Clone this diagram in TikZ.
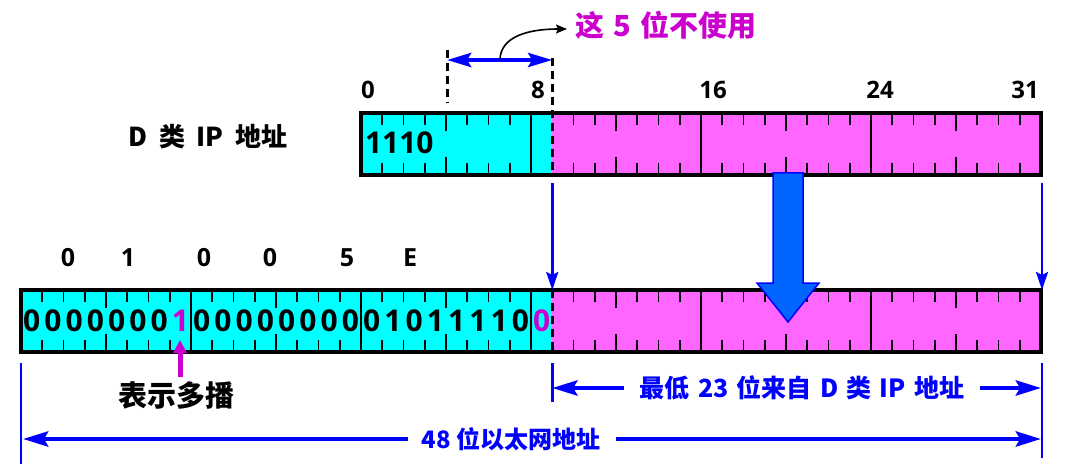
\documentclass[tikz,border=0pt]{standalone}
\usepackage{fontspec}
\setmainfont{Open Sans}
\newfontfamily\cjk{Noto Sans CJK SC}
\usetikzlibrary{arrows.meta,calc}
\definecolor{cy}{HTML}{00FFFF}
\definecolor{mg}{HTML}{FF66FF}
\definecolor{tm}{HTML}{CC00CC}
\definecolor{bl}{HTML}{0000FF}
\definecolor{ba}{HTML}{0066FF}
\newcommand{\fsz}[1]{\fontsize{#1}{#1}\selectfont}
\newcommand{\gp}{\hspace{0.33em}}
\begin{document}
\begin{tikzpicture}[x=1pt,y=-1pt,
  every node/.style={inner sep=0pt,outer sep=0pt},
  fillbox/.style={draw=none,minimum height=62pt,anchor=north west},
  tick/.style={line width=1.6pt,black},
  dashl/.style={line width=3pt,black,dash pattern=on 8pt off 5pt},
  frame/.style={line width=4pt,black},
  blueline/.style={draw=bl,line width=2.5pt},
  dimarr/.style={draw=bl,line width=4.5pt,-{Stealth[length=25pt,width=15pt,inset=4pt]}},
  thinarr/.style={draw=bl,line width=2.5pt,-{Stealth[length=18pt,width=12pt,inset=3pt]}},
  numlab/.style={font=\bfseries\fsz{24}},
  hexlab/.style={font=\bfseries\fsz{25}},
  bitd/.style={font=\bfseries\fsz{30}},
  cjklab/.style={font=\cjk\bfseries\fsz{#1}},
]
\useasboundingbox (0,0) rectangle (1067,470);

% bar fills
\node[fillbox,fill=cy,minimum width=191.25pt] (tcy) at (361,113) {};
\node[fillbox,fill=mg,minimum width=488.75pt] (tmg) at (552.25,113) {};
\node[fillbox,fill=cy,minimum width=531.25pt] (bcy) at (21,290) {};
\node[fillbox,fill=mg,minimum width=488.75pt] (bmg) at (552.25,290) {};

% ticks top bar
\foreach \i in {1,...,31}{
  \pgfmathsetmacro\xx{361+\i*21.25}
  \pgfmathtruncatemacro\r{\i==9 ? 3 : (mod(\i,8)==0 ? 2 : (mod(\i,4)==0 ? 1 : 0))}
  \ifcase\r
    \draw[tick] (\xx,113) -- ++(0,12) (\xx,175) -- ++(0,-12);
  \or
    \draw[tick] (\xx,113) -- ++(0,18) (\xx,175) -- ++(0,-18);
  \or
    \draw[tick] (\xx,113) -- (\xx,175);
  \fi
}
% ticks bottom bar
\foreach \i in {1,...,47}{
  \pgfmathsetmacro\xx{21+\i*21.25}
  \pgfmathtruncatemacro\r{\i==25 ? 3 : (mod(\i,8)==0 ? 2 : (mod(\i,4)==0 ? 1 : 0))}
  \ifcase\r
    \draw[tick] (\xx,290) -- ++(0,12) (\xx,352) -- ++(0,-12);
  \or
    \draw[tick] (\xx,290) -- ++(0,18) (\xx,352) -- ++(0,-18);
  \or
    \draw[tick] (\xx,290) -- (\xx,352);
  \fi
}

% dashed lines
\coordinate (d4top) at (447,50);
\coordinate (d4bot) at (447,103);
\coordinate (d9top) at (552.25,58);
\draw[dashl] (d4top) -- (d4bot);
\draw[dashl] (d9top) -- (tmg.south west);
\draw[dashl] (bmg.north west) -- (bmg.south west);

% frames
\draw[frame] (tcy.north west) rectangle (tmg.south east);
\draw[frame] (bcy.north west) rectangle (bmg.south east);

% top labels
\node[cjklab=29,text=tm] (t5) at (666,25) {这\gp 5\gp 位不使用};
\node[numlab] (n0) at (368,90) {0};
\node[numlab] (n8) at (538,90) {8};
\node[numlab] (n16) at (713,90) {16};
\node[numlab] (n24) at (880,90) {24};
\node[numlab] (n31) at (1025,90) {31};
\node[cjklab=26] (dlab) at (208,137) {D\hspace{0.45em}类\hspace{0.45em}IP\hspace{0.45em}地址};
\node[font=\bfseries\fsz{30},anchor=west] (t1110) at (365,143) {1110};

% 5-bit arrow and curved pointer
\coordinate (u1) at (447,60);
\coordinate (u2) at (552.25,60);
\draw[draw=bl,line width=4.5pt,{Stealth[length=24pt,width=14pt,inset=4pt]}-{Stealth[length=24pt,width=14pt,inset=4pt]}] (u1) -- (u2);
\coordinate (cs) at (500,59);
\coordinate (ce) at (567,29);
\draw[line width=1.6pt,-{Stealth[length=11pt,width=9pt,inset=2pt]}] (cs) .. controls (501,38) and (525,29) .. (ce);

% hex labels
\node[hexlab] (h1) at (68,258) {0};
\node[hexlab] (h2) at (128,258) {1};
\node[hexlab] (h3) at (204,258) {0};
\node[hexlab] (h4) at (270,258) {0};
\node[hexlab] (h5) at (347,258) {5};
\node[hexlab] (h6) at (410,258) {E};

% bit digits
\foreach \d [count=\i from 0] in {0,0,0,0,0,0,0,1,0,0,0,0,0,0,0,0,0,1,0,1,1,1,1,0,0}{
  \pgfmathsetmacro\xx{21+(\i+0.5)*21.25}
  \ifnum\i=7 \def\cc{tm}\else\ifnum\i=24 \def\cc{tm}\else\def\cc{black}\fi\fi
  \node[bitd,text=\cc] (b\i) at (\xx,321) {\d};
}

% thin blue arrows between bars
\draw[thinarr] ($(tmg.south west)+(0,8)$) -- (bmg.north west);
\draw[thinarr] ($(tmg.south east)+(1,8)$) -- ($(bmg.north east)+(1,0)$);

% big block arrow
\draw[fill=ba,draw=bl,line width=1.5pt,line join=miter]
  (773,173) -- (803,173) -- (803,283) -- (819,283) -- (788,322) -- (757,283) -- (773,283) -- cycle;

% multicast marker
\node[cjklab=29] (mc) at (176,395) {表示多播};
\coordinate (mcs) at (180,377);
\coordinate (mct) at (180,340);
\draw[draw=tm,line width=5pt,-{Triangle[length=13pt,width=13pt]}] (mcs) -- (mct);

% lower dimension lines
\coordinate (v1a) at (21,363);   \coordinate (v1b) at (21,464);
\coordinate (v2a) at (552.25,363); \coordinate (v2b) at (552.25,402);
\coordinate (v3a) at (1042,363); \coordinate (v3b) at (1042,458);
\draw[blueline] (v1a) -- (v1b);
\draw[blueline] (v2a) -- (v2b);
\draw[blueline] (v3a) -- (v3b);

\node[cjklab=25,text=bl] (t23) at (802,388) {最低\gp 23\gp 位来自\gp D\gp 类\gp IP\gp 地址};
\node[cjklab=24,text=bl] (t48) at (511,439) {48 位以太网地址};
\draw[dimarr] ($(t23.west)+(-16,0)$) -- (v2a |- t23);
\draw[dimarr] ($(t23.east)+(16,0)$) -- ($(v3a |- t23)+(-1,0)$);
\draw[dimarr] ($(t48.west)+(-14,0)$) -- ($(v1a |- t48)+(2,0)$);
\draw[dimarr] ($(t48.east)+(16,0)$) -- ($(v3a |- t48)+(-1,0)$);
\end{tikzpicture}
\end{document}
